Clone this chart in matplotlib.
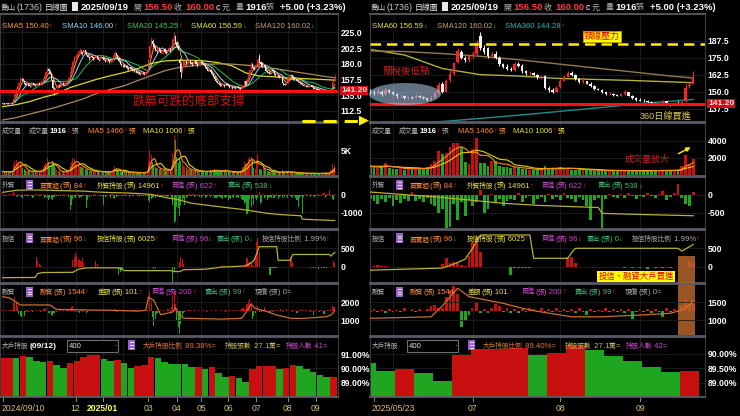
import numpy as np
import pandas as pd
import matplotlib
matplotlib.use("Agg")
import matplotlib.pyplot as plt
from matplotlib.patches import Rectangle, Ellipse, Polygon, FancyArrowPatch
from matplotlib.lines import Line2D
from matplotlib.transforms import blended_transform_factory

plt.rcParams["font.family"] = ["Liberation Sans", "Noto Sans CJK TC", "DejaVu Sans"]
plt.rcParams["axes.unicode_minus"] = False

# ---------------- daily quotes, one list per calendar month (2024/09 .. 2025/09) ----------------
OPEN = [
    [122, 123, 122.5, 124, 123.5, 122.5, 123, 124, 124, 131, 137, 144, 149, 152],
    [157, 158, 156, 152, 150, 151, 149, 148, 150, 152, 150, 149, 151, 153, 150, 151, 155, 158, 163],
    [168, 173, 170, 166, 157, 146, 143, 145, 147, 150, 148, 151, 153, 150, 152, 154, 156, 160, 166, 175, 182],
    [188, 190, 193, 196, 198, 196, 195, 199, 197, 193, 190, 188, 191, 189, 187, 189, 191, 188, 186, 189],
    [190, 188, 186, 184, 187, 185, 182, 184, 186, 190, 195, 192, 188, 184, 180],
    [178, 178, 176, 177, 174, 172, 175, 173, 171, 169, 170, 168, 167, 166, 165, 167, 166, 165, 168],
    [171, 188, 206, 213, 208, 204, 200, 198, 203, 199, 196, 198, 201, 197, 195, 199, 202, 198, 205, 215, 219],
    [210, 205, 185, 180, 169, 176, 182, 184, 180, 183, 185, 181, 179, 182, 184, 180, 178, 181],
    [183, 182, 180, 178, 175, 172, 170, 171, 168, 165, 162, 158, 155, 153, 151, 150, 149, 150, 148, 151],
    [150, 148, 146.5, 147, 145, 146, 145.5, 147, 146, 145, 144, 145.5, 149, 156, 150, 158.5, 163, 172, 179, 175, 173],
    [176, 178, 191, 182, 182, 176, 178, 175, 170, 168.5, 167, 166, 170.5, 169, 165, 163.5, 164, 162, 160.5, 161.5, 153, 151, 150],
    [153.5, 158, 161, 164, 162, 159, 157, 157.5, 156, 154, 152, 151.5, 149.5, 148, 148.5, 147.5, 147, 148, 149.5, 147, 145],
    [144, 143.5, 143, 142.5, 141.5, 141, 141.5, 143, 141, 140.5, 142, 141.5, 143, 154, 156.5],
]
HIGH = [
    [124, 123.5, 124.5, 124.5, 124, 123.5, 125, 124.5, 131, 138, 145, 150, 154, 161.5],
    [161, 159, 157, 153, 152, 152, 150, 151, 153, 153, 151, 152, 154, 154, 152, 156, 159, 165, 170],
    [176, 174, 171, 167, 158, 147, 146, 148, 151, 151, 152, 154, 154, 153, 155, 157, 161, 168, 177, 185, 191],
    [192, 195, 198, 202.5, 199, 198, 201, 200, 198, 194, 191, 193, 192, 190, 191, 193, 192, 189, 191, 192],
    [191, 189, 187, 188, 188, 186, 185, 187, 192, 198, 196, 193, 189, 185, 181],
    [180, 179, 178, 178, 175, 176, 176, 174, 172, 171, 171, 169, 168, 167, 168, 168, 167, 169, 171],
    [187, 206, 218, 215, 209, 205, 201, 204, 204, 200, 199, 203, 202, 198, 200, 204, 203, 207, 217, 226, 221],
    [212, 207, 188, 182, 177, 184, 186, 185, 184, 187, 186, 182, 183, 186, 185, 181, 182, 185],
    [185, 183, 181, 179, 176, 173, 173, 172, 169, 166, 163, 159, 156, 154, 152, 151.5, 152.5, 151, 152.5, 152],
    [150.5, 149, 148.5, 147.5, 147, 147, 148, 147.5, 146.5, 145.5, 146.5, 150, 157, 157, 159, 166, 172, 182, 181, 176, 178],
    [180, 188, 194, 184, 183, 179, 180, 176, 171, 170, 168, 171.5, 172, 170, 166, 165.5, 164.5, 163, 162.5, 162.5, 154.5, 152.5, 154],
    [159, 162, 165, 165.5, 163, 160, 161, 158, 157, 155, 153, 152, 150, 149.5, 149, 148.5, 149, 151, 150, 147.5, 146],
    [145, 144.5, 144, 143, 142.5, 142, 144, 143.5, 142, 142.5, 143, 143.5, 155.5, 157, 165.5],
]
LOW = [
    [121.5, 122, 122, 123, 122, 122, 122.5, 123, 123.5, 130, 136, 142, 147.5, 151],
    [155, 155, 151, 149, 149, 148, 147, 147, 149, 149, 148, 148, 150, 149, 149, 150, 154, 157, 162],
    [167, 169, 165, 157, 144, 135, 142, 144, 146, 147, 147, 150, 149, 149, 151, 153, 155, 159, 165, 174, 181],
    [186, 188, 192, 194, 195, 193, 194, 196, 192, 189, 186, 187, 188, 186, 186, 188, 187, 184, 185, 188],
    [187, 185, 183, 183, 184, 181, 181, 183, 185, 189, 191, 187, 183, 179, 177],
    [176, 175, 175, 173, 171, 171, 172, 170, 168, 168, 167, 166, 165, 164, 164, 165, 164, 164, 167],
    [170, 187, 204, 206, 202, 198, 196, 197, 198, 195, 194, 196, 196, 194, 194, 198, 197, 197, 204, 213, 208],
    [203, 199, 180, 159, 167, 175, 180, 179, 179, 182, 180, 177, 178, 181, 179, 176, 177, 180],
    [181, 179, 177, 174, 171, 169, 169, 167, 164, 161, 157, 154, 152, 150, 148.5, 147.5, 148.5, 147, 147.5, 149],
    [147.5, 145.5, 146, 144.5, 144.5, 144.5, 145, 145.5, 144.5, 143, 143.5, 145, 148.5, 149, 149.5, 157, 162, 171, 174, 171.5, 172],
    [174.5, 177, 181, 178, 175, 175, 174, 169, 167.5, 166, 165, 165.5, 168, 164, 162.5, 162.5, 161.5, 159.5, 159.5, 152, 149.5, 149, 149.5],
    [153, 157.5, 160.5, 161.5, 158.5, 156.5, 156.5, 155.5, 153.5, 151.5, 151, 149, 147.5, 147.5, 147, 146.5, 146.5, 147.5, 146.5, 144.5, 143.5],
    [143, 142.5, 142, 141, 140.5, 140.5, 141, 140.5, 139.5, 140, 141, 141, 142.5, 153, 155.5],
]
CLOSE = [
    [123, 122.5, 124, 123.5, 122.5, 123, 124, 123.5, 130, 137, 143, 148.5, 152, 157],
    [158, 156, 152, 150, 151, 149, 148, 150, 152, 150, 149, 151, 153, 150, 151, 155, 158, 163, 168],
    [172, 170, 166, 158, 146, 143, 145, 147, 150, 148, 151, 153, 150, 152, 154, 156, 160, 166, 175, 183, 188],
    [190, 193, 196, 198, 196, 195, 199, 197, 193, 190, 188, 191, 189, 187, 189, 191, 188, 186, 189, 190],
    [188, 186, 184, 187, 185, 182, 184, 186, 190, 195, 192, 188, 184, 180, 178],
    [178, 176, 177, 174, 172, 175, 173, 171, 169, 170, 168, 167, 166, 165, 167, 166, 165, 168, 170],
    [187, 205, 214, 208, 204, 200, 198, 203, 199, 196, 198, 201, 197, 195, 199, 202, 198, 205, 215, 220, 210],
    [205, 200, 181, 168, 176, 182, 184, 180, 183, 185, 181, 179, 182, 184, 180, 178, 181, 183],
    [182, 180, 178, 175, 172, 170, 171, 168, 165, 162, 158, 155, 153, 151, 150, 149, 150.5, 148, 151, 150],
    [148, 146.5, 147, 145, 146, 145.5, 147, 146, 145, 144, 145.5, 149, 155, 150, 158, 163, 171, 180, 175, 173, 176],
    [178, 186, 182, 179, 176, 178, 175, 170, 168.5, 167, 166, 170.5, 169, 165, 163.5, 164, 162, 160.5, 161, 153, 151, 150, 153],
    [158, 161, 164, 162, 159, 157, 157.5, 156, 154, 152, 151.5, 149.5, 148, 148.5, 147.5, 147, 148, 149.5, 147, 145, 144],
    [143.5, 143, 142.5, 141.5, 141, 141.5, 143, 141, 140.5, 142, 141.5, 142.5, 153, 155, 160],
]
VOLUME = [
    [900, 800, 950, 850, 700, 800, 900, 850, 2200, 2900, 3100, 2600, 2400, 2800],
    [2300, 1600, 1400, 1100, 900, 1000, 950, 800, 1000, 900, 850, 900, 1000, 950, 800, 1300, 1700, 2200, 2600],
    [3500, 2800, 2000, 2200, 2900, 2500, 1500, 1100, 1000, 900, 850, 900, 800, 850, 900, 1000, 1400, 2000, 2700, 3500, 3300],
    [2500, 2300, 2100, 2400, 1800, 1500, 1700, 1400, 1300, 1100, 1000, 1200, 900, 800, 900, 1000, 850, 800, 900, 850],
    [800, 750, 900, 850, 800, 900, 850, 1000, 1400, 2000, 1500, 1100, 900, 1000, 850],
    [800, 700, 750, 800, 700, 650, 700, 800, 750, 650, 700, 600, 650, 700, 600, 650, 700, 800, 900],
    [3000, 5100, 4200, 2800, 2200, 1800, 1500, 1600, 1400, 1300, 1200, 1300, 1100, 1000, 1200, 1300, 1100, 2000, 4500, 8100, 7100],
    [3800, 2500, 3500, 3000, 2600, 2000, 1800, 1500, 1400, 1300, 1200, 1100, 1000, 1050, 950, 900, 1000, 950],
    [900, 850, 800, 900, 1000, 950, 850, 1100, 1000, 1200, 1300, 1100, 1000, 950, 900, 950, 820, 1050, 1400, 880],
    [760, 700, 820, 650, 900, 720, 680, 760, 820, 1000, 1250, 1700, 2800, 2450, 2600, 3300, 3700, 3800, 3250, 1500, 1300],
    [3100, 4300, 1450, 1400, 1100, 1700, 1650, 1100, 900, 1000, 850, 950, 800, 700, 750, 650, 600, 700, 650, 1100, 800, 700, 750],
    [900, 850, 800, 650, 600, 550, 700, 600, 550, 500, 600, 550, 500, 520, 480, 500, 600, 550, 500, 450, 500],
    [550, 480, 520, 500, 620, 520, 600, 480, 580, 550, 650, 1100, 2350, 1314, 1916],
]
# foreign investors net buy/sell (張)
FOREIGN_NET = [
    [50, -30, 20, -80, 40, -20, 60, 30, 150, 120, -50, -100, 80, -60],
    [-120, -200, -80, 40, -60, -30, 20, -40, -150, -90, 30, -20, 50, -70, -30, 60, 80, -150, -100],
    [-200, -300, -150, -250, -290, -120, 40, -50, -30, 20, -60, -40, 30, -80, -20, 50, -100, -870, -600, -250, -120],
    [-150, 60, -80, -200, -120, 40, -60, -30, -750, -300, -100, 20, -50, -80, 30, -40, -20, 10, -60, -30],
    [-80, -580, -100, -40, 20, -60, -150, 30, -200, -250, -120, -60, -40, 20, -30],
    [-50, -80, 30, -60, -20, -100, 40, -30, -70, -20, 30, -50, -40, 10, -30, -60, 20, -40, -80],
    [-300, -400, -250, -150, -100, -200, -80, 50, -120, -60, -30, 40, -80, -50, -100, -40, 30, -200, -600, -1600, -1500],
    [-700, -750, -1200, -600, -300, -150, -600, -200, -100, 50, -80, -40, 60, -120, -60, -30, 40, -90],
    [-150, -80, 40, -200, -100, -60, 30, -120, -80, -50, -150, -200, -100, -60, -120, -180, -250, -120, -200, -90],
    [-300, -150, -220, -100, -180, 80, -160, -120, -200, -80, -250, -300, -500, -400, -1100, -900, -250, -700, -200, -600, -150],
    [-300, -200, 150, -500, -400, 30, -200, -120, -300, -180, -100, -150, 60, -200, -80, -40, -250, -120, -60, -200, 40, -100, -60],
    [-150, 50, -80, -120, -200, -60, -150, -300, -700, -150, -80, -1100, -100, 40, -60, -80, 30, -90, 50, -40, -100],
    [-30, -60, 60, -40, -80, 40, 120, -150, -60, 50, 300, -80, -250, -300, 84],
]
# investment trusts net buy/sell (張)
TRUST_NET = [
    [0, 0, 0, 0, 0, 0, 0, 0, 0, 0, 0, 0, 0, 0],
    [0, 0, 0, 0, 0, 0, 0, 0, 0, 0, 0, 270, 150, 80, 40, 0, 0, 0, 0],
    [0, 0, 0, 0, 0, 0, 0, 0, 0, 0, 0, 0, 0, 0, 0, 0, 0, 0, 0, 180, 250],
    [370, 300, 220, 180, 150, 250, 100, 0, 0, 0, 0, 0, 0, 0, 0, 150, 80, 0, 0, 0],
    [0, 0, 0, 0, 0, 0, 0, 0, 0, 0, 0, 0, -225, -150, -100],
    [-80, 0, 0, 0, 0, 0, 0, 0, 0, 0, 0, 0, 0, 0, 0, 0, 0, 0, 0],
    [0, 0, 0, 0, -60, -40, 0, 0, 0, 0, 0, 0, 0, 0, 0, 0, 0, 0, -440, -120, 0],
    [0, 0, 120, 270, 200, 80, 0, 0, 0, 0, 0, 0, 0, 0, 0, 0, 0, 0],
    [0, 0, 0, 0, 0, 0, 0, 0, 0, 0, 0, 0, 0, 0, 0, 30, 40, 30, 20, 0],
    [0, 0, 0, 0, 0, 0, 0, 0, 0, 0, 0, 0, 0, 60, 230, 100, 120, 100, 50, 30, 300],
    [680, 790, 400, 0, 0, 0, 0, 0, 0, 0, -225, -30, -30, -40, -30, -30, 0, 0, 0, 0, 0, 0, 0],
    [0, 0, 270, 270, 100, 0, 0, 0, 0, 0, 0, 0, 0, 0, 0, 0, 0, -30, 0, -40, 0],
    [-30, 0, -50, 0, -30, 0, -40, 0, -30, 0, 0, 0, 0, 150, 96],
]
# margin purchase daily change (張)
MARGIN_NET = [
    [10, -20, 15, 0, -10, 20, 30, 10, 250, 400, 300, 150, -100, -150],
    [-200, -330, -150, -50, 20, -30, -20, 10, -40, 20, -10, 30, -20, 10, -30, 20, 40, 60, 80],
    [100, -80, -60, -120, -150, -80, 20, -30, 10, -20, 30, -10, 20, -15, 10, 25, 40, 80, 120, 150, 60],
    [-50, 30, -40, -60, 20, -30, 10, -20, -60, -40, 10, -10, 20, -15, 10, -20, 15, -10, 5, 10],
    [-20, 10, -15, 20, -10, 15, -20, 10, 30, 50, -30, -20, -10, 10, -15],
    [-10, 5, -20, 10, -15, 20, -10, 5, -5, 10, -10, 15, -5, 5, -10, 10, -5, 20, 30],
    [500, 600, 300, -200, -450, -250, -100, -60, -30, 20, -20, 30, -10, -20, 40, 60, -30, 120, 450, 600, 200],
    [-300, -500, -700, -400, -150, -60, -30, 20, -20, 10, -10, 15, -20, 10, -5, -15, 10, -10],
    [-10, -20, 10, -15, -30, 5, -10, -20, 10, -15, -20, 10, -10, -5, -15, 20, -15, 10, -30, 15],
    [-25, 10, -20, 30, -10, 15, -20, 25, -10, 20, 60, 80, 40, 30, 200, 300, 360, 250, -240, -150, -60],
    [40, 130, -30, 20, -40, 30, 100, 60, -20, 30, -30, 20, -40, 25, -20, 30, 15, -25, 40, -30, 20, -20, 35],
    [-15, 25, -20, 15, -30, 30, -15, -60, 20, -25, 10, -20, 30, -15, 25, -20, 20, -30, 15, -120, -20],
    [25, -15, 20, -30, 25, -20, -90, 30, -25, 20, -15, 60, 150, 100, 101],
]

# long moving averages, sampled on trading-day index
MA_DAY = [0, 10, 20, 30, 40, 50, 60, 70, 80, 90, 100, 110, 120, 130, 140, 150, 160, 170, 180, 190, 200, 210, 220, 230, 240, 246]
SMA60 = [118.6, 121.5, 126, 132, 137, 146, 152, 158, 163, 167.5, 173, 180.5, 184, 185, 185, 184, 181.5, 177, 167, 162.5, 161.5, 159.8, 159, 158.2, 157.2, 156.59]
SMA120 = [99.6, 103, 108, 113, 118, 124, 130, 138, 143.5, 148.5, 156, 163, 170, 174.5, 177, 179, 180, 179.5, 178, 176, 173.5, 170.5, 167.5, 164.5, 161.5, 160.02]
MA360_DAY = [162, 172, 182, 192, 202, 212, 222, 232, 242, 246]
SMA360 = [124.5, 126.5, 128.5, 130.8, 133.2, 135.8, 138.4, 141.2, 143.4, 144.28]

# holdings / balances (張)
FX_DAY = [0, 10, 20, 30, 40, 50, 60, 70, 80, 90, 100, 110, 120, 130, 140, 150, 162, 170, 178, 187, 196, 205, 214, 221, 222, 230, 238, 246]
FX_HOLD = [24500, 25180, 25300, 25250, 25100, 25000, 24900, 24600, 24400, 24300, 24100, 23800, 22800, 22000, 20800, 20200,
           19550, 19100, 18680, 18040, 17390, 17000, 16750, 16570, 15420, 15250, 15100, 14961]
IT_DAY = [0, 24, 26, 30, 52, 56, 62, 86, 90, 125, 127, 131, 134, 150, 162, 180, 183, 186, 188, 190, 203, 204, 213, 214, 215, 242, 243, 246]
IT_HOLD = [600, 650, 1500, 1700, 1750, 2400, 2700, 2700, 2100, 2100, 1900, 1900, 2300, 2400, 2850, 3100, 3600, 4200,
           5600, 7200, 7200, 4310, 4310, 5000, 5550, 5550, 5200, 6025]
MG_DAY = [0, 5, 13, 35, 40, 67, 80, 100, 106, 108, 112, 117, 126, 128, 131, 134, 162, 177, 180, 184, 187, 196, 203, 214, 222, 232, 240, 243, 245, 246]
MG_BAL = [2320, 2250, 1850, 1850, 1600, 1560, 1550, 1500, 1550, 2300, 2100, 1300, 1450, 1700, 1300, 1100, 1050, 1090,
          1400, 1900, 1660, 1470, 1280, 1090, 1090, 1140, 1190, 1280, 1424, 1544]

# weekly major-holder ratio (%), one value per week
BIG_RATIO = [90.70, 90.75, 90.73, 90.89, 90.80, 90.54, 90.43, 90.50, 90.24, 90.00,
             90.40, 90.50, 90.80, 90.90, 90.93, 90.63, 90.50, 90.58, 90.35, 90.05,
             90.17, 90.24, 90.80, 90.70, 90.45, 90.32, 90.30, 90.28, 90.08, 90.12,
             89.98, 90.10, 89.70, 89.42, 89.48, 89.33, 89.06, 89.97, 90.17, 90.18,
             90.19, 89.97, 90.03, 90.26, 90.14, 89.93, 89.76, 89.54, 89.37, 89.40]

LEFT_DATES = [(0, "2024/09/10"), (54, "12"), (74, "2025/01"), (108, "03"), (129, "04"), (147, "05"),
              (167, "06"), (188, "07"), (211, "08"), (232, "09")]
RIGHT_DATES = [(162, "2025/05/23"), (188, "07"), (211, "08"), (232, "09")]
SUPPORT = 141.20
NECKLINE = 185.1

# ---------------- series ----------------
flat = lambda rows: np.concatenate([np.asarray(r, float) for r in rows])
o, h, l, c = flat(OPEN), flat(HIGH), flat(LOW), flat(CLOSE)
vol = flat(VOLUME)
fnet, tnet, mnet = flat(FOREIGN_NET), flat(TRUST_NET), flat(MARGIN_NET)
n = len(c)
assert all(len(a) == n for a in (o, h, l, vol, fnet, tnet, mnet))
days = np.arange(n)
month_start = np.cumsum([0] + [len(m) for m in CLOSE[:-1]])
prev_c = np.r_[o[0], c[:-1]]
cs = pd.Series(c)
sma5 = cs.rolling(5, min_periods=1).mean().values
sma10 = cs.rolling(10, min_periods=1).mean().values
sma20 = cs.rolling(20, min_periods=1).mean().values
vs = pd.Series(vol)
vma5 = vs.rolling(5, min_periods=1).mean().values
vma10 = vs.rolling(10, min_periods=1).mean().values

# ---------------- figure ----------------
W, H = 740, 416
fig = plt.figure(figsize=(W / 100, H / 100), dpi=100, facecolor="black")
renderer = fig.canvas.get_renderer()


def fx(x):
    return x / W


def fy(y):
    return 1 - y / H


RED = "#ff2424"
GRN = "#22c422"
GREY = "#b4b4b4"
ORANGE = "#ff8c3a"
YELLOW = "#e8e040"
MAGENTA = "#d048d0"
SELLGRN = "#3cc078"
BAR_RED = "#c81010"
BAR_GRN = "#1fa51f"
HS = 5.6       # header size for latin runs
CJK_K = 0.86   # CJK runs are drawn a little smaller

SIDES = {
    "L": dict(x0=0, x1=338, lim=(-2.0, 248.4), dx=0, bw=0.72, lw=0.55, minbody=0.7, wk=4.8),
    "R": dict(x0=370, x1=705, lim=(160.95, 249.1), dx=370, bw=0.62, lw=0.8, minbody=0.35, wk=4.85),
}
ROWS = [(14, 122), (123, 176), (177, 229), (230, 283), (284, 336), (337, 397)]


def panel(side, row, ylim, ticks, labels=None, twin_lim=None):
    s = SIDES[side]
    y0, y1 = ROWS[row]
    ax = fig.add_axes([fx(s["x0"]), fy(y1), (s["x1"] - s["x0"]) / W, (y1 - y0) / H])
    tw = None
    if twin_lim is not None:
        tw = ax.twinx()
        tw.set_ylim(*twin_lim)
        tw.axis("off")
    ax.set_facecolor("black")
    for sp in ax.spines.values():
        sp.set_color("#3a3a42")
        sp.set_linewidth(0.8)
    for k in ("top", "bottom"):
        ax.spines[k].set_color("#5a5a66")
        ax.spines[k].set_linewidth(1.3)
    ax.set_xticks(month_start)
    ax.tick_params(axis="x", length=0, labelbottom=False)
    ax.set_xlim(*s["lim"])
    ax.yaxis.tick_right()
    ax.set_yticks(ticks)
    ax.set_ylim(*ylim)
    if labels is not None:
        ax.set_yticklabels(labels)
    ax.tick_params(axis="y", which="both", left=False, labelleft=False, right=False, labelright=True,
                   length=0, pad=2, labelsize=6.2, labelcolor="white")
    for t in ax.get_yticklabels():
        t.set_fontweight("bold")
    ax.grid(True, color="#1e1e1e", lw=0.6)
    ax.set_axisbelow(True)
    return ax, tw


def is_cjk(ch):
    return ord(ch) >= 0x2E80


def seg(x, y, s, color, size=HS, weight="normal"):
    """Draw s at pixel (x, y); CJK runs get a smaller size. Returns the right edge in pixels."""
    runs, cur, flag = [], "", None
    for ch in s:
        f = is_cjk(ch)
        if cur and f != flag:
            runs.append((cur, flag))
            cur = ""
        cur += ch
        flag = f
    if cur:
        runs.append((cur, flag))
    end = x
    for txt, cj in runs:
        t = fig.text(fx(end), fy(y), txt, color=color, fontsize=size * CJK_K if cj else size,
                     fontweight="normal" if cj else weight, ha="left", va="center_baseline")
        end = t.get_window_extent(renderer).x1
    return end


def row_text(y, parts):
    """parts: (x or None, text, color[, size[, weight]]); None continues after the previous part."""
    end = 0
    for p in parts:
        x, s, col = p[0], p[1], p[2]
        size = p[3] if len(p) > 3 else HS
        wt = p[4] if len(p) > 4 else "normal"
        end = seg(end + 0.6 if x is None else x, y, s, col, size, wt)


def icon(x, y):
    fig.add_artist(Rectangle((fx(x), fy(y + 5)), 7 / W, 10 / H, transform=fig.transFigure,
                             facecolor="#9a5fd0", edgecolor="none"))
    for dy in (-2.6, 0, 2.6):
        fig.add_artist(Line2D([fx(x + 1.6), fx(x + 5.4)], [fy(y + dy)] * 2, color="white", lw=0.6))


UP, DN = "↑", "↓"

for side in ("L", "R"):
    s = SIDES[side]
    dx = s["dx"]

    # ---------- price ----------
    if side == "L":
        ax, _ = panel(side, 0, (96.7, 251.2), [112.5, 135.0, 157.5, 180.0, 202.5, 225.0],
                      ["112.5", "135.0", "157.5", "180.0", "202.5", "225.0"])
        ax.plot(days, sma20, color="#22c24a", lw=0.7, zorder=2)
        ax.plot(days, sma10, color="#8fd8ff", lw=0.7, zorder=2)
        ax.plot(days, sma5, color="#ff9a2e", lw=0.7, zorder=2)
        ax.plot(MA_DAY, SMA60, color="#d8d828", lw=0.9, zorder=2)
        ax.plot(MA_DAY, SMA120, color="#a88a5c", lw=0.9, zorder=2)
    else:
        ax, _ = panel(side, 0, (127.7, 207.1), [137.5, 150.0, 162.5, 175.0, 187.5],
                      ["137.5", "150.0", "162.5", "175.0", "187.5"])
        ax.plot(MA_DAY, SMA60, color="#b0b034", lw=1.0, zorder=2)
        ax.plot(MA_DAY, SMA120, color="#94784e", lw=1.0, zorder=2)
        ax.plot(MA360_DAY, SMA360, color="#228c8c", lw=1.0, zorder=2)
    kcol = np.where(c > o, RED, "#f2f2f2")
    ax.vlines(days, l, h, colors=kcol, lw=s["lw"], zorder=3)
    ax.bar(days, np.maximum(np.abs(c - o), s["minbody"]), bottom=np.minimum(o, c),
           width=s["bw"], color=kcol, lw=0, zorder=3)
    ax.axhline(SUPPORT, color="#ff1010", lw=2.2, zorder=4)
    tr = blended_transform_factory(ax.transAxes, ax.transData)
    ax.text(1 + 3 / (s["x1"] - s["x0"]), SUPPORT, f"{SUPPORT:.2f}", transform=tr, color="#ffe0e0",
            fontsize=6.0, fontweight="bold", ha="left", va="center", zorder=6, clip_on=False,
            bbox=dict(boxstyle="square,pad=0.12", facecolor="#d01010", edgecolor="none"))
    if side == "R":
        ax.axhline(NECKLINE, color="#ffee00", lw=1.8, dashes=(4.2, 2.4), zorder=4)

    # price header
    if side == "L":
        row_text(25, [(2, f"SMA5 {sma5[-1]:.2f}", "#ff9a2e"), (None, UP, RED),
                      (62, f"SMA10 {sma10[-1]:.2f}", "#8fd8ff"), (None, UP, RED),
                      (127, f"SMA20 {sma20[-1]:.2f}", "#2ecc55"), (None, UP, RED),
                      (191, f"SMA60 {SMA60[-1]:.2f}", "#e6e62e"), (None, DN, GRN),
                      (255, f"SMA120 {SMA120[-1]:.2f}", "#c8a070"), (None, DN, GRN)])
    else:
        row_text(25, [(372, f"SMA60 {SMA60[-1]:.2f}", "#e6e62e"), (None, DN, GRN),
                      (437, f"SMA120 {SMA120[-1]:.2f}", "#c8a070"), (None, DN, GRN),
                      (505, f"SMA360 {SMA360[-1]:.2f}", "#2ab5b5"), (None, UP, RED)])

    # title row
    chg = c[-1] - c[-2]
    row_text(7, [(dx + 1, "喬山(1736)", "#c8c8c8", 6.4),
                 (dx + 45, "日線圖", "#e8e8e8", 6.6),
                 (dx + 81, "2025/09/19", "white", 6.8, "bold"),
                 (dx + 133, "開", GREY, 6.6),
                 (dx + 143, f"{o[-1]:.2f}", "#ff3a3a", 6.8, "bold"),
                 (dx + 174, "收", GREY, 6.6),
                 (dx + 185, f"{c[-1]:.2f}", "#ff3a3a", 6.8, "bold"),
                 (dx + 216, "c", "white", 6.3),
                 (dx + 222, "元", GREY, 6.6),
                 (dx + 236, "量", GREY, 6.6),
                 (dx + 245, f"{vol[-1]:.0f}", "white", 6.8, "bold"),
                 (dx + 266, "張", GREY, 6.6),
                 (dx + 280, f"{chg:+.2f} ({chg / c[-2] * 100:+.2f}%)", "white", 6.8, "bold")])
    fig.add_artist(Rectangle((fx(dx + 72), fy(10.5)), 6 / W, 8 / H, transform=fig.transFigure,
                             facecolor="#e8e8e8", edgecolor="none"))

    # ---------- volume ----------
    if side == "L":
        ax, _ = panel(side, 1, (0, 10500), [5000], ["5K"])
    else:
        ax, _ = panel(side, 1, (-110, 6100), [2000, 4000], ["2000", "4000"])
    vcol = np.where(c > prev_c, BAR_RED, np.where(c < prev_c, BAR_GRN, "#b0b0b0"))
    ax.bar(days, vol, width=s["bw"] + 0.08, color=vcol, lw=0, zorder=2)
    ax.plot(days, vma10, color="#e6d200", lw=0.8, zorder=3)
    ax.plot(days, vma5, color="#ff8c1a", lw=0.8, zorder=3)
    row_text(130.7, [(dx + 2, "成交量", GREY), (dx + 29, "成交量", GREY),
                     (None, f"{vol[-1]:.0f}", "white", HS, "bold"), (None, UP, RED), (None, "張", GREY),
                     (dx + 88, f"MA5 {vma5[-1]:.0f}", ORANGE), (None, UP, RED), (None, "張", ORANGE),
                     (dx + 143, f"MA10 {vma10[-1]:.0f}", YELLOW), (None, UP, RED), (None, "張", YELLOW)])

    # ---------- foreign investors ----------
    if side == "L":
        ax, tw = panel(side, 2, (-1965, 1040), [-1000, 0], ["-1000", "0"], twin_lim=(12095, 29670))
    else:
        ax, tw = panel(side, 2, (-960, 508), [-500, 0], ["-500", "0"], twin_lim=(12357, 22550))
    ax.bar(days, fnet, width=s["bw"] + 0.08, color=np.where(fnet >= 0, BAR_RED, BAR_GRN), lw=0, zorder=2)
    tw.plot(FX_DAY, FX_HOLD, color="#b8b030", lw=0.9)
    icon(dx + 26, 185)
    row_text(185, [(dx + 2, "外資", GREY),
                   (dx + 40, f"買賣超(張) {fnet[-1]:.0f}", ORANGE), (None, UP, RED),
                   (dx + 97, f"外資持股(張) {FX_HOLD[-1]}", YELLOW), (None, UP, RED),
                   (dx + 172, "買進(張) 622", MAGENTA), (None, UP, RED),
                   (dx + 228, "賣出(張) 538", SELLGRN), (None, DN, GRN)])

    # ---------- investment trusts ----------
    ax, tw = panel(side, 3, (-443, 998), [0, 500], ["0", "500"],
                   twin_lim=(-529, 10757) if side == "L" else (1248, 7820))
    ax.bar(days, tnet, width=s["bw"] + 0.08, color=np.where(tnet >= 0, BAR_RED, BAR_GRN), lw=0, zorder=2)
    tw.plot(IT_DAY, IT_HOLD, color="#b8b030", lw=0.9)
    icon(dx + 26, 238.3)
    row_text(238.3, [(dx + 2, "投信", GREY),
                     (dx + 40, f"買賣超(張) {tnet[-1]:.0f}", ORANGE), (None, DN, GRN),
                     (dx + 97, f"投信持股(張) {IT_HOLD[-1]}", YELLOW), (None, UP, RED),
                     (dx + 172, "買進(張) 96", MAGENTA), (None, DN, GRN),
                     (dx + 217, "賣出(張) 0", SELLGRN), (None, DN, GRN),
                     (dx + 262, "投信持股比例 1.99%", "#a8a8a8"), (None, UP, RED)])

    # ---------- margin ----------
    if side == "L":
        ax, tw = panel(side, 4, (96, 3034), [1000, 2000], ["1000", "2000"], twin_lim=(-765, 795))
    else:
        ax, tw = panel(side, 4, (548, 2017), [1000, 1500], ["1000", "1500"], twin_lim=(-382, 397))
    tw.bar(days, mnet, width=s["bw"] + 0.08, color=np.where(mnet >= 0, BAR_RED, BAR_GRN), lw=0)
    ax.set_zorder(tw.get_zorder() + 1)
    ax.patch.set_visible(False)
    ax.plot(MG_DAY, MG_BAL, color="#c8702e", lw=0.9, zorder=3)
    icon(dx + 26, 291.7)
    row_text(291.7, [(dx + 2, "融資", GREY),
                     (dx + 40, f"融資(張) {MG_BAL[-1]}", ORANGE), (None, UP, RED),
                     (dx + 98, f"差額(張) {mnet[-1]:.0f}", YELLOW), (None, UP, RED),
                     (dx + 152, "買進(張) 200", MAGENTA), (None, UP, RED),
                     (dx + 205, "賣出(張) 99", SELLGRN), (None, UP, RED),
                     (dx + 255, "現償(張) 0=", "#a8a8a8")])

    # ---------- major holders ----------
    if side == "L":
        ax, _ = panel(side, 5, (88.0, 92.19), [89, 90, 91], ["89.00%", "90.00%", "91.00%"])
    else:
        ax, _ = panel(side, 5, (88.5, 90.59), [89.0, 89.5, 90.0], ["89.00%", "89.50%", "90.00%"])
    ratio = np.asarray(BIG_RATIO)
    wcol = [BAR_RED if k == 0 or ratio[k] > ratio[k - 1] else BAR_GRN for k in range(len(ratio))]
    base = ax.get_ylim()[0]
    ax.bar(np.arange(len(ratio)) * 5, ratio - base, bottom=base, width=s["wk"], color=wcol, lw=0, zorder=2)
    if side == "L":
        row_text(345, [(2, "大戶持股", GREY), (30, "(09/12)", "white", 6.0, "bold")])
        bx = 67
    else:
        row_text(345, [(372, "大戶持股", GREY)])
        bx = 407
    fig.add_artist(Rectangle((fx(bx), fy(352)), 51 / W, 12 / H, transform=fig.transFigure,
                             facecolor="black", edgecolor="#6e6e6e", lw=0.8))
    icon(bx + 61, 345)
    pct = "89.38" if side == "L" else f"{ratio[-1]:.2f}"
    row_text(345.5, [(bx + 2, "400", "#e0e0e0"), (bx + 47, "·", "#e0e0e0"),
                     (bx + 76, f"大戶持股比例 {pct}%=", "#e07838"),
                     (bx + 158, "持股張數 27.1萬=", "#c8c050"),
                     (bx + 219, "持股人數 41=" if side == "L" else "持股人數 42=", MAGENTA)])

    # date axis
    dates = LEFT_DATES if side == "L" else RIGHT_DATES
    xtr = blended_transform_factory(ax.transData, ax.transAxes)
    for i, (d, lab) in enumerate(dates):
        ax.plot([d, d], [-0.005, -0.07], transform=xtr, color="#8a8a8a", lw=0.7, clip_on=False)
        bold = lab == "2025/01"
        ax.text(d - (0.6 if i == 0 else 0), -0.19, lab, transform=xtr, ha="left" if i == 0 else "center",
                va="center", fontsize=6.2, color="#ffff50" if bold else "#d8c070",
                fontweight="bold" if bold else "normal", clip_on=False)

# ---------------- annotations ----------------
fig.text(fx(133), fy(101.7), "跌無可跌的底部支撐", color="#d41010", fontsize=9, ha="left", va="center")
# dashed yellow arrow pointing to the right chart
fig.add_artist(Line2D([fx(302), fx(360)], [fy(120.7)] * 2, color="#ffee00", lw=2.2, dashes=(4.3, 2.6)))
fig.add_artist(Polygon([(fx(359), fy(115.8)), (fx(369), fy(120.7)), (fx(359), fy(125.6))], closed=True,
                       transform=fig.transFigure, facecolor="#ffee00", edgecolor="none"))

fig.add_artist(Ellipse((fx(405), fy(94)), 72 / W, 22 / H, transform=fig.transFigure,
                       facecolor="#b0d0f0", edgecolor="none", alpha=0.55))
fig.text(fx(382), fy(71.7), "關稅後低點", color="#d02020", fontsize=6.8, ha="left", va="center")
fig.text(fx(602), fy(36.5), "頸線壓力", color="#e00000", fontsize=6.5, ha="center", va="center",
         bbox=dict(boxstyle="square,pad=0.15", facecolor="#ffff00", edgecolor="#c8a000", lw=0.6))
fig.text(fx(640), fy(115.7), "360日線買進", color="#d8c850", fontsize=6.6, ha="left", va="center")

fig.text(fx(625), fy(159.3), "成交量放大", color="#c42020", fontsize=6.5, ha="left", va="center")
fig.add_artist(FancyArrowPatch((fx(676), fy(155)), (fx(693), fy(146)), transform=fig.transFigure,
                               arrowstyle="-|>", mutation_scale=6, color="#ffee00", lw=1.0))

fig.add_artist(Rectangle((fx(678), fy(335)), 17 / W, 79 / H, transform=fig.transFigure,
                         facecolor="#c06a2c", edgecolor="none", alpha=0.8))
fig.text(fx(636), fy(276.7), "投信、融資大戶買進", color="#e00000", fontsize=6.0, ha="center", va="center",
         bbox=dict(boxstyle="square,pad=0.15", facecolor="#ffff00", edgecolor="none"))

fig.savefig("out.png", dpi=100, facecolor="black")
